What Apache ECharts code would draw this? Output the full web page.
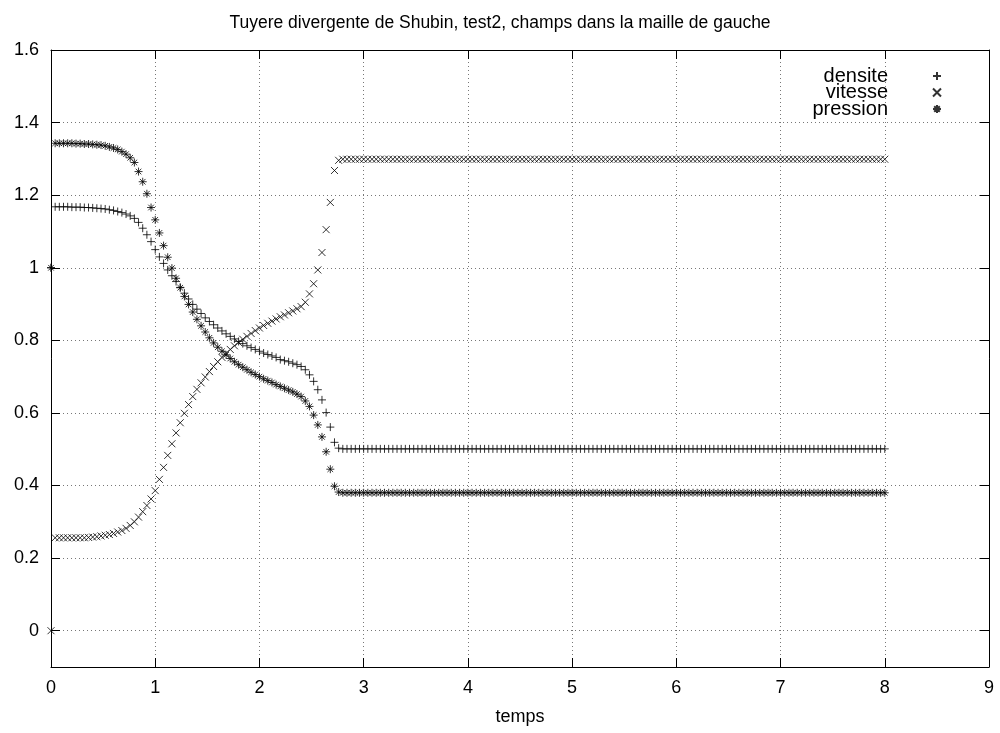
<!DOCTYPE html>
<html><head><meta charset="utf-8">
<script src="https://cdn.jsdelivr.net/npm/echarts@6/dist/echarts.min.js"></script>
<style>html,body{margin:0;padding:0;background:#fff}#c{width:1000px;height:733px}</style>
</head><body><div id="c"></div>
<script>
const titleText = 'Tuyere divergente de Shubin, test2, champs dans la maille de gauche';
const xName = 'temps';
const seriesNames = ['densite', 'vitesse', 'pression'];
const xTicks = [0,1,2,3,4,5,6,7,8,9];
const yTicks = [0,0.2,0.4,0.6,0.8,1,1.2,1.4,1.6];

const times = [
0,0.04,0.08,0.12,0.16,0.2,0.24,0.28,0.32,0.36,
0.4,0.44,0.48,0.52,0.56,0.6,0.64,0.68,0.72,0.76,
0.8,0.84,0.88,0.92,0.96,1,1.04,1.08,1.12,1.16,
1.2,1.24,1.28,1.32,1.36,1.4,1.44,1.48,1.52,1.56,
1.6,1.64,1.68,1.72,1.76,1.8,1.84,1.88,1.92,1.96,
2,2.04,2.08,2.12,2.16,2.2,2.24,2.28,2.32,2.36,
2.4,2.44,2.48,2.52,2.56,2.6,2.64,2.68,2.72,2.76,
2.8,2.84,2.88,2.92,2.96,3,3.04,3.08,3.12,3.16,
3.2,3.24,3.28,3.32,3.36,3.4,3.44,3.48,3.52,3.56,
3.6,3.64,3.68,3.72,3.76,3.8,3.84,3.88,3.92,3.96,
4,4.04,4.08,4.12,4.16,4.2,4.24,4.28,4.32,4.36,
4.4,4.44,4.48,4.52,4.56,4.6,4.64,4.68,4.72,4.76,
4.8,4.84,4.88,4.92,4.96,5,5.04,5.08,5.12,5.16,
5.2,5.24,5.28,5.32,5.36,5.4,5.44,5.48,5.52,5.56,
5.6,5.64,5.68,5.72,5.76,5.8,5.84,5.88,5.92,5.96,
6,6.04,6.08,6.12,6.16,6.2,6.24,6.28,6.32,6.36,
6.4,6.44,6.48,6.52,6.56,6.6,6.64,6.68,6.72,6.76,
6.8,6.84,6.88,6.92,6.96,7,7.04,7.08,7.12,7.16,
7.2,7.24,7.28,7.32,7.36,7.4,7.44,7.48,7.52,7.56,
7.6,7.64,7.68,7.72,7.76,7.8,7.84,7.88,7.92,7.96,
8
];

const densite = [
1.0,1.168,1.168,1.168,1.168,1.167,1.167,1.167,1.166,1.166,
1.165,1.164,1.163,1.162,1.160,1.158,1.155,1.152,1.148,1.143,
1.136,1.125,1.109,1.091,1.072,1.050,1.030,1.012,0.994,0.978,
0.962,0.946,0.930,0.914,0.899,0.886,0.874,0.862,0.852,0.843,
0.834,0.826,0.818,0.811,0.804,0.797,0.791,0.785,0.780,0.775,
0.770,0.765,0.761,0.757,0.753,0.747,0.744,0.741,0.737,0.733,
0.728,0.719,0.705,0.687,0.664,0.636,0.601,0.561,0.519,0.503,
0.501,0.501,0.501,0.501,0.501,0.501,0.501,0.501,0.501,0.501,
0.501,0.501,0.501,0.501,0.501,0.501,0.501,0.501,0.501,0.501,
0.501,0.501,0.501,0.501,0.501,0.501,0.501,0.501,0.501,0.501,
0.501,0.501,0.501,0.501,0.501,0.501,0.501,0.501,0.501,0.501,
0.501,0.501,0.501,0.501,0.501,0.501,0.501,0.501,0.501,0.501,
0.501,0.501,0.501,0.501,0.501,0.501,0.501,0.501,0.501,0.501,
0.501,0.501,0.501,0.501,0.501,0.501,0.501,0.501,0.501,0.501,
0.501,0.501,0.501,0.501,0.501,0.501,0.501,0.501,0.501,0.501,
0.501,0.501,0.501,0.501,0.501,0.501,0.501,0.501,0.501,0.501,
0.501,0.501,0.501,0.501,0.501,0.501,0.501,0.501,0.501,0.501,
0.501,0.501,0.501,0.501,0.501,0.501,0.501,0.501,0.501,0.501,
0.501,0.501,0.501,0.501,0.501,0.501,0.501,0.501,0.501,0.501,
0.501,0.501,0.501,0.501,0.501,0.501,0.501,0.501,0.501,0.501,
0.501
];

const vitesse = [
0,0.256,0.256,0.256,0.256,0.256,0.256,0.256,0.256,0.257,
0.258,0.259,0.261,0.263,0.265,0.268,0.272,0.276,0.282,0.290,
0.300,0.313,0.328,0.345,0.363,0.386,0.417,0.450,0.483,0.515,
0.545,0.573,0.599,0.623,0.645,0.665,0.683,0.699,0.714,0.728,
0.741,0.753,0.764,0.775,0.785,0.794,0.803,0.811,0.819,0.827,
0.834,0.841,0.847,0.853,0.859,0.865,0.870,0.876,0.881,0.887,
0.893,0.905,0.928,0.956,0.994,1.042,1.105,1.180,1.268,1.296,
1.299,1.299,1.299,1.299,1.299,1.299,1.299,1.299,1.299,1.299,
1.299,1.299,1.299,1.299,1.299,1.299,1.299,1.299,1.299,1.299,
1.299,1.299,1.299,1.299,1.299,1.299,1.299,1.299,1.299,1.299,
1.299,1.299,1.299,1.299,1.299,1.299,1.299,1.299,1.299,1.299,
1.299,1.299,1.299,1.299,1.299,1.299,1.299,1.299,1.299,1.299,
1.299,1.299,1.299,1.299,1.299,1.299,1.299,1.299,1.299,1.299,
1.299,1.299,1.299,1.299,1.299,1.299,1.299,1.299,1.299,1.299,
1.299,1.299,1.299,1.299,1.299,1.299,1.299,1.299,1.299,1.299,
1.299,1.299,1.299,1.299,1.299,1.299,1.299,1.299,1.299,1.299,
1.299,1.299,1.299,1.299,1.299,1.299,1.299,1.299,1.299,1.299,
1.299,1.299,1.299,1.299,1.299,1.299,1.299,1.299,1.299,1.299,
1.299,1.299,1.299,1.299,1.299,1.299,1.299,1.299,1.299,1.299,
1.299,1.299,1.299,1.299,1.299,1.299,1.299,1.299,1.299,1.299,
1.299
];

const pression = [
1.0,1.343,1.343,1.343,1.343,1.343,1.342,1.342,1.341,1.341,
1.340,1.339,1.338,1.336,1.333,1.330,1.326,1.320,1.313,1.303,
1.290,1.265,1.237,1.204,1.166,1.132,1.096,1.061,1.029,0.999,
0.971,0.945,0.921,0.899,0.878,0.858,0.840,0.823,0.807,0.793,
0.781,0.770,0.760,0.750,0.741,0.733,0.726,0.719,0.712,0.706,
0.700,0.694,0.689,0.684,0.678,0.673,0.668,0.663,0.658,0.652,
0.645,0.633,0.618,0.594,0.567,0.534,0.493,0.445,0.398,0.382,
0.380,0.380,0.380,0.380,0.380,0.380,0.380,0.380,0.380,0.380,
0.380,0.380,0.380,0.380,0.380,0.380,0.380,0.380,0.380,0.380,
0.380,0.380,0.380,0.380,0.380,0.380,0.380,0.380,0.380,0.380,
0.380,0.380,0.380,0.380,0.380,0.380,0.380,0.380,0.380,0.380,
0.380,0.380,0.380,0.380,0.380,0.380,0.380,0.380,0.380,0.380,
0.380,0.380,0.380,0.380,0.380,0.380,0.380,0.380,0.380,0.380,
0.380,0.380,0.380,0.380,0.380,0.380,0.380,0.380,0.380,0.380,
0.380,0.380,0.380,0.380,0.380,0.380,0.380,0.380,0.380,0.380,
0.380,0.380,0.380,0.380,0.380,0.380,0.380,0.380,0.380,0.380,
0.380,0.380,0.380,0.380,0.380,0.380,0.380,0.380,0.380,0.380,
0.380,0.380,0.380,0.380,0.380,0.380,0.380,0.380,0.380,0.380,
0.380,0.380,0.380,0.380,0.380,0.380,0.380,0.380,0.380,0.380,
0.380,0.380,0.380,0.380,0.380,0.380,0.380,0.380,0.380,0.380,
0.380
];

const FONT = "'Liberation Sans', Arial, Helvetica, sans-serif";
const symPlus = 'path://M0,5L10,5M5,0L5,10';
const symCross = 'path://M0,0L10,10M10,0L0,10';
const symStar = 'path://M0,5L10,5M5,0L5,10M1.5,1.5L8.5,8.5M8.5,1.5L1.5,8.5';

function pairs(vals) { return times.map((t, i) => [t, vals[i]]); }

const tickStyle = { show: true, inside: true, length: 9, lineStyle: { color: '#000', width: 1 } };
const gridLineStyle = { show: true, lineStyle: { color: '#777', type: [1, 3], width: 1 } };
const axisLineStyle = { show: true, onZero: false, lineStyle: { color: '#000', width: 1 } };

const chart = echarts.init(document.getElementById('c'), null, { renderer: 'canvas' });
const pointStyle = { color: 'rgba(0,0,0,0)', borderColor: '#000', borderWidth: 1 };

chart.setOption({
  animation: false,
  backgroundColor: '#fff',
  title: {
    text: titleText, left: 'center', top: 9,
    textStyle: { fontFamily: FONT, fontSize: 17.5, fontWeight: 'normal', color: '#000' }
  },
  legend: {
    data: seriesNames, orient: 'vertical', right: 53, top: 61,
    align: 'right', itemWidth: 8, itemHeight: 8, itemGap: -3.5,
    selectedMode: false,
    textStyle: { fontFamily: FONT, fontSize: 20, color: '#000', lineHeight: 16, padding: [0, 40, 0, 0] }
  },
  grid: { left: 51, right: 11, top: 50, bottom: 66 },
  xAxis: [{
    type: 'value', min: xTicks[0], max: xTicks[xTicks.length - 1], interval: 1,
    position: 'bottom', axisLine: axisLineStyle, axisTick: tickStyle,
    axisLabel: { fontFamily: FONT, fontSize: 18, color: '#000', margin: 12 },
    splitLine: gridLineStyle,
    name: xName, nameLocation: 'middle', nameGap: 41,
    nameTextStyle: { fontFamily: FONT, fontSize: 18, color: '#000' }
  }, {
    type: 'value', min: xTicks[0], max: xTicks[xTicks.length - 1], interval: 1,
    position: 'top', axisLine: axisLineStyle, axisTick: tickStyle,
    axisLabel: { show: false }, splitLine: { show: false }
  }],
  yAxis: [{
    type: 'value', min: -0.1, max: 1.6,
    position: 'left', axisLine: axisLineStyle,
    axisTick: Object.assign({}, tickStyle, { customValues: yTicks }),
    axisLabel: { customValues: yTicks, fontFamily: FONT, fontSize: 18, color: '#000', margin: 12 },
    splitLine: gridLineStyle
  }, {
    type: 'value', min: -0.1, max: 1.6,
    position: 'right', axisLine: axisLineStyle,
    axisTick: Object.assign({}, tickStyle, { customValues: yTicks }),
    axisLabel: { show: false }, splitLine: { show: false }
  }],
  series: [
    { name: seriesNames[0], type: 'scatter', xAxisIndex: 0, yAxisIndex: 0, data: pairs(densite),
      symbol: symPlus, symbolSize: 8, itemStyle: pointStyle, emphasis: { disabled: true } },
    { name: seriesNames[1], type: 'scatter', xAxisIndex: 0, yAxisIndex: 0, data: pairs(vitesse),
      symbol: symCross, symbolSize: 7, itemStyle: pointStyle, emphasis: { disabled: true } },
    { name: seriesNames[2], type: 'scatter', xAxisIndex: 0, yAxisIndex: 0, data: pairs(pression),
      symbol: symStar, symbolSize: 8, itemStyle: pointStyle, emphasis: { disabled: true } }
  ]
});
</script>
</body></html>
